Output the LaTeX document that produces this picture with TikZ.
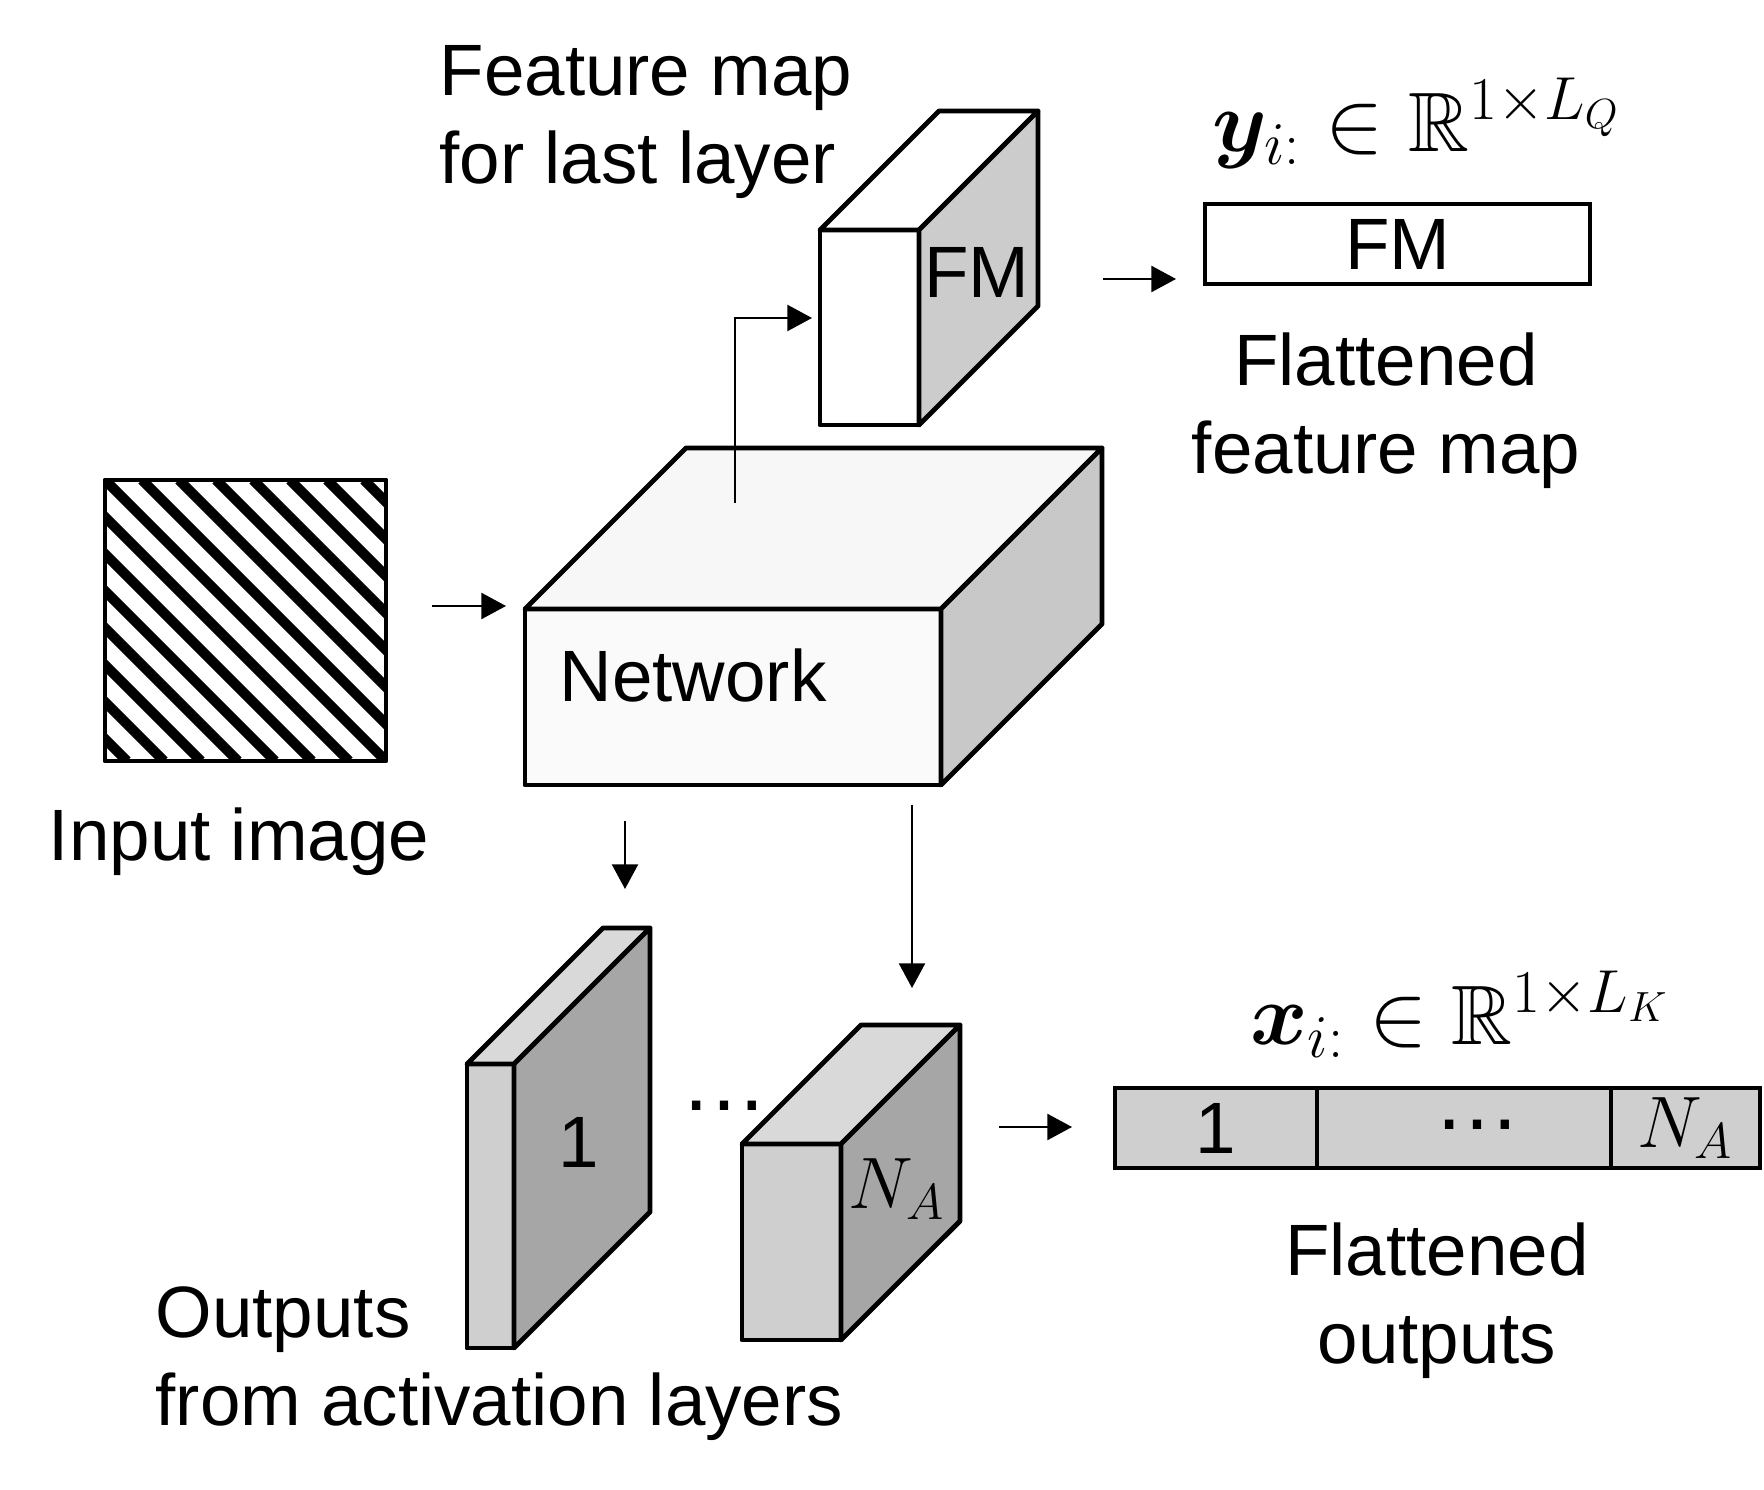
\documentclass[tikz,border=0pt]{standalone}
\usepackage[no-math]{fontspec}
\setmainfont{Liberation Sans}
\usepackage{amsmath,amssymb,bm}
\usetikzlibrary{arrows.meta}
\definecolor{netfront}{HTML}{FAFAFA}
\definecolor{nettop}{HTML}{F7F7F7}
\definecolor{netside}{HTML}{C8C8C8}
\definecolor{fmside}{HTML}{CCCCCC}
\definecolor{actfront}{HTML}{D0CFD0}
\definecolor{acttop}{HTML}{D9D9D9}
\definecolor{actside}{HTML}{A6A6A6}

\begin{document}
\begin{tikzpicture}[font=\fontsize{20.7}{25}\selectfont,
  face/.style={draw,line width=1.4pt,line join=round},
  arr/.style={-{Triangle[length=7pt,width=7.4pt]},line width=0.6pt},
  lbl/.style={inner sep=0pt,align=center},
  dotlbl/.style={inner sep=0pt,font=\fontsize{25}{30}\selectfont},
  cell/.style={draw,line width=1.4pt,fill=actfront,minimum height=0.8cm,inner sep=0pt},
  mathlbl/.style={inner sep=0pt,font=\fontsize{24}{28}\selectfont}]
\useasboundingbox (0,0) rectangle (17.64,14.89);
\begin{scope}
\clip (1.05,7.28) rectangle (3.86,10.09);
\foreach \k in {-8,...,8}
  \draw[line width=2.9pt] (1.05+\k*0.37,10.09) -- ++(2.81,-2.81);
\end{scope}
\draw[face] (1.05,7.28) rectangle (3.86,10.09);
\node[lbl] (imgtext) at (2.39,6.47) {Input image};
\draw[face,fill=netfront] (5.25,7.04) rectangle (9.41,8.80);
\draw[face,fill=nettop] (5.25,8.80) -- (6.86,10.41) -- (11.02,10.41) -- (9.41,8.80) -- cycle;
\draw[face,fill=netside] (9.41,7.04) -- (11.02,8.65) -- (11.02,10.41) -- (9.41,8.80) -- cycle;
\node[lbl,anchor=west] (nettext) at (5.59,8.13) {Network};
\draw[face,fill=white] (8.20,10.64) rectangle (9.19,12.59);
\draw[face,fill=white] (8.20,12.59) -- (9.39,13.78) -- (10.38,13.78) -- (9.19,12.59) -- cycle;
\draw[face,fill=fmside] (9.19,10.64) -- (10.38,11.83) -- (10.38,13.78) -- (9.19,12.59) -- cycle;
\node[lbl] (fmcube) at (9.77,12.17) {FM};
\node[lbl,align=left,anchor=west] (fmtitle) at (4.39,13.67) {Feature map\\for last layer};
\node[draw,line width=1.4pt,minimum width=3.85cm,minimum height=0.8cm,inner sep=0pt] (flatfm) at (13.975,12.45) {FM};
\node[mathlbl] (ylabel) at (14.17,13.66) {$\bm{y}_{i:}\in\mathbb{R}^{1\times L_Q}$};
\node[lbl] (flatfmtext) at (13.86,10.78) {Flattened\\feature map};
\draw[face,fill=actfront] (4.67,1.41) rectangle (5.14,4.25);
\draw[face,fill=acttop] (4.67,4.25) -- (6.03,5.61) -- (6.50,5.61) -- (5.14,4.25) -- cycle;
\draw[face,fill=actside] (5.14,1.41) -- (6.50,2.77) -- (6.50,5.61) -- (5.14,4.25) -- cycle;
\node[lbl] (actone) at (5.79,3.47) {1};
\node[dotlbl] (actdots) at (7.24,3.83) {\dots};
\draw[face,fill=actfront] (7.42,1.49) rectangle (8.41,3.45);
\draw[face,fill=acttop] (7.42,3.45) -- (8.61,4.64) -- (9.60,4.64) -- (8.41,3.45) -- cycle;
\draw[face,fill=actside] (8.41,1.49) -- (9.60,2.68) -- (9.60,4.64) -- (8.41,3.45) -- cycle;
\node[lbl] (actna) at (8.97,3.00) {$N_A$};
\node[cell,minimum width=2.02cm] (cellone) at (12.16,3.61) {1};
\node[cell,minimum width=2.94cm,font=\fontsize{25}{30}\selectfont] (celldots) at (14.64,3.61) {\hspace*{0.26cm}\raisebox{2pt}{\dots}};
\node[cell,minimum width=1.49cm] (cellna) at (16.855,3.61) {$N_A$};
\node[mathlbl] (xlabel) at (14.60,4.75) {$\bm{x}_{i:}\in\mathbb{R}^{1\times L_K}$};
\node[lbl] (flatouttext) at (14.37,1.88) {Flattened\\outputs};
\node[lbl,align=left,anchor=west] (acttext) at (1.55,1.25) {Outputs\\from activation layers};
\coordinate (imgout) at (4.32,8.83);
\coordinate (netin) at (5.06,8.83);
\coordinate (fmstart) at (7.35,9.86);
\coordinate (fmin) at (8.12,11.71);
\coordinate (fmout) at (11.03,12.10);
\coordinate (flatfmin) at (11.76,12.10);
\coordinate (netdownone) at (6.25,6.68);
\coordinate (actonein) at (6.25,6.00);
\coordinate (netdownna) at (9.12,6.84);
\coordinate (actnain) at (9.12,5.01);
\coordinate (actout) at (9.99,3.62);
\coordinate (flatoutin) at (10.72,3.62);
\draw[arr] (imgout) -- (netin);
\draw[arr] (fmstart) |- (fmin);
\draw[arr] (fmout) -- (flatfmin);
\draw[arr] (netdownone) -- (actonein);
\draw[arr] (netdownna) -- (actnain);
\draw[arr] (actout) -- (flatoutin);
\end{tikzpicture}
\end{document}
